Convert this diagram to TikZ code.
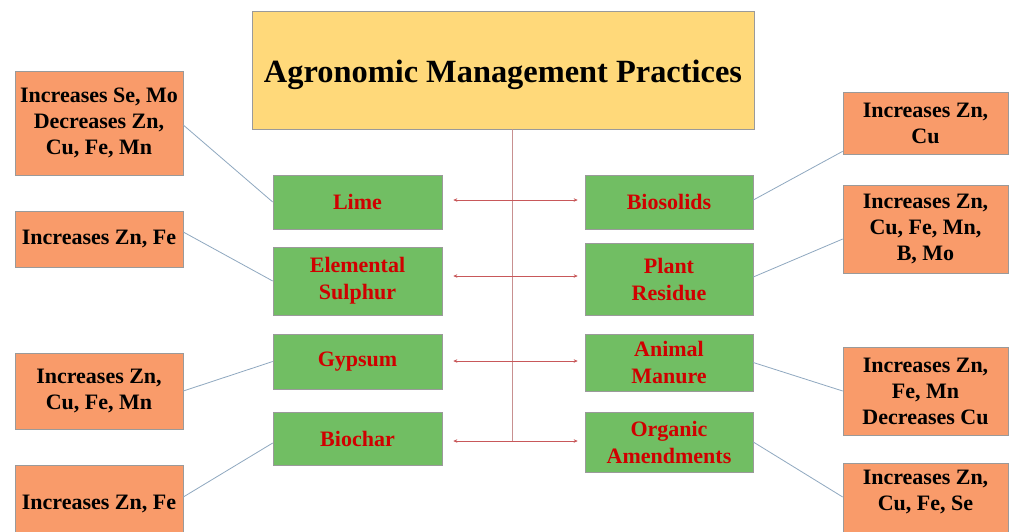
\documentclass[tikz,border=0pt]{standalone}
\usepackage{fontspec}
\setmainfont{Liberation Serif}
\usetikzlibrary{arrows.meta,calc}
\definecolor{topfill}{HTML}{FFD97A}
\definecolor{greenfill}{HTML}{71BE63}
\definecolor{orangefill}{HTML}{F99B6A}
\definecolor{redtext}{HTML}{D00000}
\definecolor{arrred}{HTML}{C8585A}
\definecolor{vline}{HTML}{C89090}
\definecolor{conn}{HTML}{8FA8C0}
\definecolor{boxline}{HTML}{9A9A9A}
\tikzset{
  topbox/.style={draw=boxline, line width=0.8pt, fill=topfill, minimum width=502pt, minimum height=118pt, inner sep=0pt,
    text height=32pt, text depth=7pt, font=\fontsize{32.4}{38}\selectfont\bfseries},
  greenbox/.style={draw=boxline, line width=0.6pt, fill=greenfill, minimum width=169pt, inner sep=0pt, align=center,
    text=redtext, font=\fontsize{22}{27}\selectfont\bfseries},
  orangebox/.style={draw=boxline, line width=0.6pt, fill=orangefill, minimum width=168pt, inner sep=0pt, align=center,
    font=\fontsize{22}{26}\selectfont\bfseries},
  arr/.style={draw=arrred, line width=0.8pt, {Stealth[length=4pt,width=3.5pt]}-{Stealth[length=4pt,width=3.5pt]}},
  connline/.style={draw=conn, line width=0.8pt},
  trunk/.style={draw=vline, line width=1pt}
}
\begin{document}
\begin{tikzpicture}[x=1pt,y=-1pt]
\useasboundingbox (0,0) rectangle (1009,531);
\clip (0,0) rectangle (1009,531);
\fill[white] (0,0) rectangle (1009,531);

\node[topbox] (top) at (503,70) {Agronomic Management Practices};

% left green
\node[greenbox, minimum height=54pt] (lime) at (357.5,202) {Lime};
\node[greenbox, minimum height=68pt] (elem) at (357.5,281) {Elemental\\Sulphur};
\node[greenbox, minimum height=55pt] (gyp) at (357.5,361.5) {Gypsum};
\node[greenbox, minimum height=53pt] (bioc) at (357.5,438.5) {Biochar};
% right green
\node[greenbox, minimum width=168pt, minimum height=54pt] (bios) at (669,202) {Biosolids};
\node[greenbox, minimum width=168pt, minimum height=72pt] (plant) at (669,279) {Plant\\Residue};
\node[greenbox, minimum width=168pt, minimum height=57pt] (anim) at (669,362.5) {Animal\\Manure};
\node[greenbox, minimum width=168pt, minimum height=60pt] (org) at (669,442) {Organic\\Amendments};

% left orange
\node[orangebox, minimum height=104pt] (o1) at (99,123) {Increases Se, Mo\\Decreases Zn,\\Cu, Fe, Mn};
\node[orangebox, minimum height=56pt] (o2) at (99,239) {Increases Zn, Fe};
\node[orangebox, minimum height=76pt] (o3) at (99,391) {Increases Zn,\\Cu, Fe, Mn};
\node[orangebox, anchor=north, text height=44pt, text depth=31pt] (o4) at (99,465) {Increases Zn, Fe};
% right orange
\node[orangebox, minimum width=165pt, minimum height=62pt] (r1) at (925.5,123) {Increases Zn,\\Cu};
\node[orangebox, minimum width=165pt, minimum height=88pt] (r2) at (925.5,229) {Increases Zn,\\Cu, Fe, Mn,\\B, Mo};
\node[orangebox, minimum width=165pt, minimum height=88pt] (r3) at (925.5,391) {Increases Zn,\\Fe, Mn\\Decreases Cu};
\node[orangebox, minimum width=165pt, anchor=north, text height=21pt, text depth=56pt] (r4) at (925.5,463)
  {\renewcommand{\arraystretch}{1}\begin{tabular}[t]{@{}c@{}}Increases Zn,\\Cu, Fe, Se\end{tabular}};

% trunk
\coordinate (vend) at (512,441);
\draw[trunk] (top.south -| vend) -- (vend);

% arrows
\draw[arr] ($(lime.east)+(11,-2)$) -- ($(bios.west)+(-7,-2)$);
\draw[arr] ($(elem.east)+(11,-5)$) -- ($(plant.west)+(-7,-3)$);
\draw[arr] ($(gyp.east)+(11,-0.5)$) -- ($(anim.west)+(-7,-1.5)$);
\draw[arr] ($(bioc.east)+(11,2.5)$) -- ($(org.west)+(-7,-1)$);

% connectors left
\draw[connline] ($(o1.east)+(0,2)$) -- (lime.west);
\draw[connline] ($(o2.east)+(0,-7)$) -- (elem.west);
\draw[connline] (o3.east) -- (gyp.west);
\draw[connline] ($(o4.north east)+(0,32)$) -- ($(bioc.west)+(0,4.5)$);
% connectors right
\draw[connline] ($(bios.east)+(0,-2)$) -- ($(r1.south west)+(0,-3)$);
\draw[connline] ($(plant.east)+(0,-2)$) -- ($(r2.west)+(0,10)$);
\draw[connline] (anim.east) -- (r3.west);
\draw[connline] (org.east) -- ($(r4.north west)+(0,34)$);
\end{tikzpicture}
\end{document}
